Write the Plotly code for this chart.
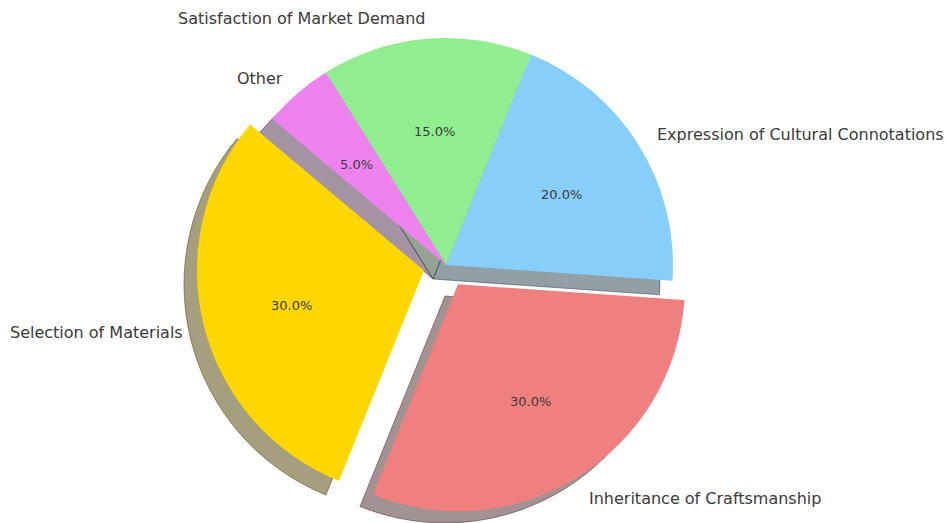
import math
import plotly.graph_objects as go

# ---- data ----
labels = ["Selection of Materials", "Inheritance of Craftsmanship",
          "Expression of Cultural Connotations", "Satisfaction of Market Demand", "Other"]
values = [30, 30, 20, 15, 5]
explode = [0.1, 0.1, 0, 0, 0]
colors = ["#FFD700", "#F08080", "#87CEFA", "#90EE90", "#EE82EE"]
start_angle = 140  # degrees, counterclockwise from 3 o'clock

# ---- layout geometry (pixels) ----
W, H = 946, 523
cx, cy = 446, 265        # pie centre, px from top-left
R = 227                  # pie radius, px
shadow_dx, shadow_dy = -13, 14
label_dist = 1.1
pct_dist = 0.6
text_dy = 2              # baseline nudge to match matplotlib's vertical centring
label_pad = 3            # horizontal inward nudge of outer labels
TRANSPARENT = "rgba(0,0,0,0)"

total = sum(values)
# plotly (counterclockwise): first slice's clockwise edge sits at `rotation`
plotly_rotation = 90 - (start_angle + 360 * values[0] / total)
plotly_rotation = (plotly_rotation + 180) % 360 - 180


def domain(cxp, cyp, pull):
    S = 2 * R * (1 + pull)
    yb = H - cyp
    # keep the box inside the paper (plotly requires domain in [0, 1])
    yb = min(max(yb, S / 2), H - S / 2)
    xc = min(max(cxp, S / 2), W - S / 2)
    return dict(x=[(xc - S / 2) / W, (xc + S / 2) / W],
                y=[(yb - S / 2) / H, (yb + S / 2) / H])


def hex_to_rgb(h):
    h = h.lstrip("#")
    return tuple(int(h[i:i + 2], 16) for i in (0, 2, 4))


shadow_colors = []
for c in colors:
    r, g, b = hex_to_rgb(c)
    shadow_colors.append(f"rgba({0.3*r:.0f},{0.3*g:.0f},{0.3*b:.0f},0.5)")

mids = []
theta = start_angle
for v in values:
    span = 360 * v / total
    mids.append(math.radians(theta + span / 2))
    theta += span

fig = go.Figure()
common = dict(values=values, labels=labels, sort=False, direction="counterclockwise",
              rotation=plotly_rotation, textinfo="none", showlegend=False)

# shadows: one trace per slice, each centred at its (exploded) shadow position
for i, (e, m) in enumerate(zip(explode, mids)):
    scx = cx + shadow_dx + e * R * math.cos(m)
    scy = cy + shadow_dy - e * R * math.sin(m)
    cols = [shadow_colors[j] if j == i else TRANSPARENT for j in range(len(values))]
    fig.add_trace(go.Pie(domain=domain(scx, scy, 0),
                         marker=dict(colors=cols, line=dict(color=cols, width=1)),
                         hoverinfo="skip", **common))

# main pie
fig.add_trace(go.Pie(domain=domain(cx, cy, max(explode)), pull=explode,
                     marker=dict(colors=colors, line=dict(width=0)),
                     hoverinfo="label+percent", **common))

# ---- labels (matplotlib-style placement) ----
annotations = []
for lab, v, e, m in zip(labels, values, explode, mids):
    ox = cx + e * R * math.cos(m)
    oy = cy - e * R * math.sin(m)
    right_side = math.cos(m) > 0
    lx = ox + label_dist * R * math.cos(m) + (-label_pad if right_side else label_pad)
    ly = oy - label_dist * R * math.sin(m) + text_dy
    annotations.append(dict(x=lx / W, y=1 - ly / H, xref="paper", yref="paper",
                            text=lab, showarrow=False,
                            xanchor="left" if right_side else "right",
                            yanchor="middle",
                            font=dict(family="DejaVu Sans", size=16, color="#3a3a3a")))
    px = ox + pct_dist * R * math.cos(m)
    py = oy - pct_dist * R * math.sin(m) + text_dy
    annotations.append(dict(x=px / W, y=1 - py / H, xref="paper", yref="paper",
                            text=f"{100*v/total:.1f}%", showarrow=False,
                            xanchor="center", yanchor="middle",
                            font=dict(family="DejaVu Sans", size=13, color="#3a3a3a")))

fig.update_layout(width=W, height=H, margin=dict(l=0, r=0, t=0, b=0),
                  paper_bgcolor="white", plot_bgcolor="white",
                  annotations=annotations)

fig.write_html("out.html", config={"displayModeBar": False},
               post_script="document.body.style.margin='0';document.body.style.overflow='hidden';")
